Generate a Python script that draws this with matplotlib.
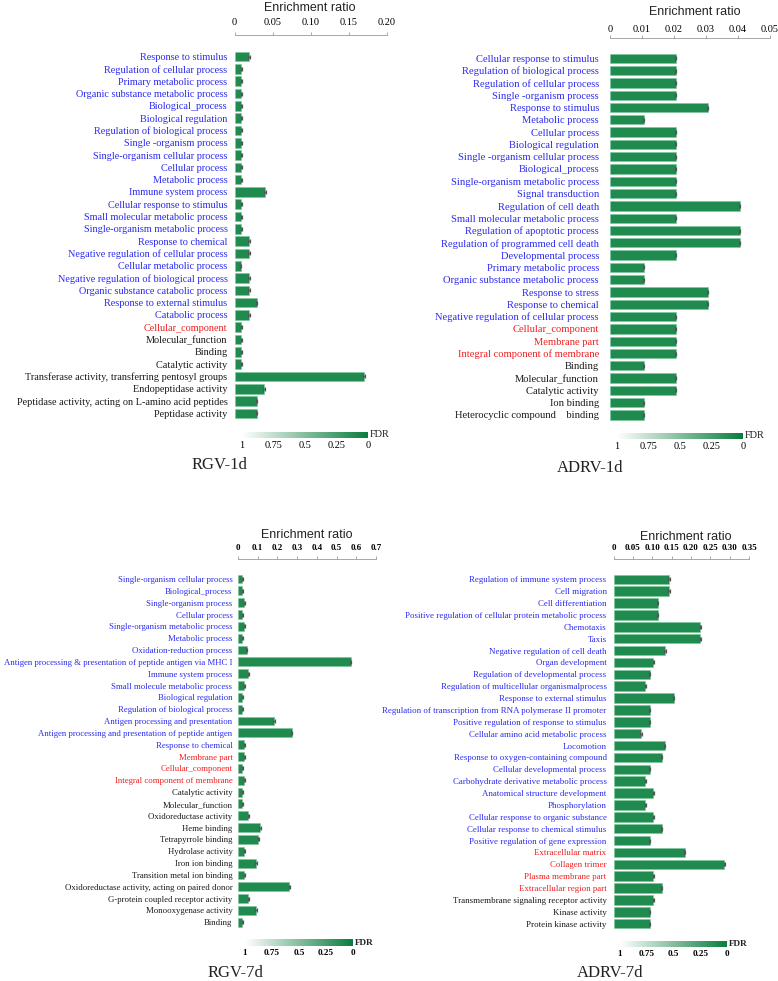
import numpy as np
import matplotlib
matplotlib.use('Agg')
import matplotlib.pyplot as plt
from matplotlib.colors import LinearSegmentedColormap

W, H = 778, 981

# ---------------- data ----------------
rgv1_labels = [
    'Response to stimulus', 'Regulation of cellular process', 'Primary metabolic process',
    'Organic substance metabolic process', 'Biological_process', 'Biological regulation',
    'Regulation of biological process', 'Single -organism process', 'Single-organism cellular process',
    'Cellular process', 'Metabolic process', 'Immune system process', 'Cellular response to stimulus',
    'Small molecular metabolic process', 'Single-organism metabolic process', 'Response to chemical',
    'Negative regulation of cellular process', 'Cellular metabolic process',
    'Negative regulation of biological process', 'Organic substance catabolic process',
    'Response to external stimulus', 'Catabolic process', 'Cellular_component', 'Molecular_function',
    'Binding', 'Catalytic activity', 'Transferase activity, transferring pentosyl groups',
    'Endopeptidase activity', 'Peptidase activity, acting on L-amino acid peptides', 'Peptidase activity']
rgv1_values = [0.019, 0.009, 0.009, 0.009, 0.009, 0.009, 0.009, 0.009, 0.009, 0.009,
               0.009, 0.040, 0.009, 0.009, 0.009, 0.019, 0.019, 0.008, 0.019, 0.019,
               0.029, 0.019, 0.009, 0.009, 0.009, 0.009, 0.170, 0.039, 0.029, 0.029]
rgv1_groups = ['BP'] * 22 + ['CC'] + ['MF'] * 7

adrv1_labels = [
    'Cellular response to stimulus', 'Regulation of biological process', 'Regulation of cellular process',
    'Single -organism process', 'Response to stimulus', 'Metabolic process', 'Cellular process',
    'Biological regulation', 'Single -organism cellular process', 'Biological_process',
    'Single-organism metabolic process', 'Signal transduction', 'Regulation of cell death',
    'Small molecular metabolic process', 'Regulation of apoptotic process',
    'Regulation of programmed cell death', 'Developmental process', 'Primary metabolic process',
    'Organic substance metabolic process', 'Response to stress', 'Response to chemical',
    'Negative regulation of cellular process', 'Cellular_component', 'Membrane part',
    'Integral component of membrane', 'Binding', 'Molecular_function', 'Catalytic activity',
    'Ion binding', 'Heterocyclic compound    binding']
adrv1_values = [0.0205, 0.0205, 0.0205, 0.0205, 0.0305, 0.0105, 0.0205, 0.0205, 0.0205, 0.0205,
                0.0205, 0.0205, 0.0405, 0.0205, 0.0405, 0.0405, 0.0205, 0.0105, 0.0105, 0.0305,
                0.0305, 0.0205, 0.0205, 0.0205, 0.0205, 0.0105, 0.0205, 0.0205, 0.0105, 0.0105]
adrv1_groups = ['BP'] * 22 + ['CC'] * 3 + ['MF'] * 5

rgv7_labels = [
    'Single-organism cellular process', 'Biological_process', 'Single-organism process',
    'Cellular process', 'Single-organism metabolic process', 'Metabolic process',
    'Oxidation-reduction process', 'Antigen processing & presentation of peptide antigen via MHC I',
    'Immune system process', 'Small molecule metabolic process', 'Biological regulation',
    'Regulation of biological process', 'Antigen processing and presentation',
    'Antigen processing and presentation of peptide antigen', 'Response to chemical',
    'Membrane part', 'Cellular_component', 'Integral component of membrane', 'Catalytic activity',
    'Molecular_function', 'Oxidoreductase activity', 'Heme binding', 'Tetrapyrrole binding',
    'Hydrolase activity', 'Iron ion binding', 'Transition metal ion binding',
    'Oxidoreductase activity, acting on paired donor', 'G-protein coupled receptor activity',
    'Monooxygenase activity', 'Binding']
rgv7_values = [0.022, 0.022, 0.032, 0.022, 0.032, 0.022, 0.044, 0.572, 0.052, 0.032,
               0.022, 0.022, 0.183, 0.272, 0.032, 0.032, 0.022, 0.032, 0.022, 0.022,
               0.052, 0.112, 0.103, 0.032, 0.091, 0.032, 0.260, 0.052, 0.091, 0.022]
rgv7_groups = ['BP'] * 15 + ['CC'] * 3 + ['MF'] * 12

adrv7_labels = [
    'Regulation of immune system process', 'Cell migration', 'Cell differentiation',
    'Positive regulation of cellular protein metabolic process', 'Chemotaxis', 'Taxis',
    'Negative regulation of cell death', 'Organ development', 'Regulation of developmental process',
    'Regulation of multicellular organismalprocess', 'Response to external stimulus',
    'Regulation of transcription from RNA polymerase II promoter',
    'Positive regulation of response to stimulus', 'Cellular amino acid metabolic process',
    'Locomotion', 'Response to oxygen-containing compound', 'Cellular developmental process',
    'Carbohydrate derivative metabolic process', 'Anatomical structure development',
    'Phosphorylation', 'Cellular response to organic substance',
    'Cellular response to chemical stimulus', 'Positive regulation of gene expression',
    'Extracellular matrix', 'Collagen trimer', 'Plasma membrane part', 'Extracellular region part',
    'Transmembrane signaling receptor activity', 'Kinase activity', 'Protein kinase activity']
adrv7_values = [0.143, 0.143, 0.114, 0.114, 0.224, 0.224, 0.133, 0.103, 0.093, 0.082,
                0.155, 0.093, 0.093, 0.071, 0.132, 0.124, 0.093, 0.082, 0.103, 0.082,
                0.103, 0.124, 0.093, 0.184, 0.286, 0.103, 0.124, 0.103, 0.093, 0.093]
adrv7_groups = ['BP'] * 23 + ['CC'] * 4 + ['MF'] * 3

fdr_ticks = [1, 0.75, 0.5, 0.25, 0]
fdr_ticklabels = ['1', '0.75', '0.5', '0.25', '0']

# ---------------- style ----------------
label_colors = {'BP': '#2b2bf0', 'CC': '#f02020', 'MF': '#1a1a1a'}
bar_color = '#1f8b4f'
serif = ['Liberation Serif', 'DejaVu Serif']
sans = ['Liberation Sans', 'DejaVu Sans']
cmap = LinearSegmentedColormap.from_list('fdr', ['#ffffff', '#0b7d3e'])

fig = plt.figure(figsize=(W / 100, H / 100), dpi=100)


def px_axes(left, top, right, bottom):
    return fig.add_axes([left / W, 1 - bottom / H, (right - left) / W, (bottom - top) / H])


def fig_text(x, y, s, **kw):
    fig.text(x / W, 1 - y / H, s, **kw)


def panel(labels, values, groups, xmax, xticks, xticklabels, x0, x1, spine_y, first_y, last_y,
          title_xy, label_fs, tick_fs, tick_bold, ypad, xpad, bar_h):
    n = len(labels)
    s = (last_y - first_y) / (n - 1)
    ax = px_axes(x0, spine_y, x1, last_y + s * 0.7)
    y = np.arange(n)
    ax.barh(y, values, height=bar_h, color=bar_color, edgecolor='#7cc79b', linewidth=0.4, zorder=2)
    ax.errorbar(values, y, xerr=xmax * 0.005, fmt='none', ecolor='#555555',
                elinewidth=0.9, capsize=1.6, capthick=0.9, zorder=3)
    ax.set_xlim(0, xmax)
    ax.set_ylim(n - 1 + 0.7, -(first_y - spine_y) / s)
    for sp in ['left', 'right', 'bottom']:
        ax.spines[sp].set_visible(False)
    ax.spines['top'].set_color('#999999')
    ax.spines['top'].set_linewidth(0.6)
    ax.xaxis.tick_top()
    ax.set_xticks(xticks)
    ax.set_xticklabels(xticklabels, family=serif, fontsize=tick_fs,
                       fontweight='bold' if tick_bold else 'normal')
    ax.tick_params(axis='x', direction='out', length=2, width=0.6, color='#999999', pad=xpad)
    ax.set_yticks(y)
    ax.set_yticklabels(labels, family=serif, fontsize=label_fs)
    ax.tick_params(axis='y', length=0, pad=ypad)
    for t, g in zip(ax.get_yticklabels(), groups):
        t.set_color(label_colors[g])
    ax.patch.set_alpha(0)
    fig_text(title_xy[0], title_xy[1], 'Enrichment ratio', family=sans, fontsize=9,
             ha='center', va='center', color='#222222')
    return ax


def fdr_bar(x0, x1, yc, fs, bold):
    cax = px_axes(x0, yc - 3.5, x1, yc + 3.5)
    cax.imshow(np.linspace(0, 1, 256)[None, :], aspect='auto', cmap=cmap, extent=(1, 0, 0, 1))
    cax.set_yticks([])
    cax.set_xticks(fdr_ticks)
    cax.set_xticklabels(fdr_ticklabels, family=serif, fontsize=fs,
                        fontweight='bold' if bold else 'normal')
    cax.tick_params(axis='x', length=0, pad=2)
    for sp in cax.spines.values():
        sp.set_visible(False)
    fig_text(x1 + 2, yc, 'FDR', family=serif, fontsize=fs, ha='left', va='center',
             fontweight='bold' if bold else 'normal', color='#222222')


# RGV-1d
panel(rgv1_labels, rgv1_values, rgv1_groups, 0.2, [0, 0.05, 0.10, 0.15, 0.20],
      ['0', '0.05', '0.10', '0.15', '0.20'], 234.5, 387, 35, 56.7, 413.3, (310, 8),
      7.4, 7.4, False, 5, 4, 0.78)
fdr_bar(242, 368, 435, 7.4, False)
fig_text(219, 465, 'RGV-1d', family=serif, fontsize=12, ha='center', va='center', color='#222222')

# ADRV-1d
panel(adrv1_labels, adrv1_values, adrv1_groups, 0.05, [0, 0.01, 0.02, 0.03, 0.04, 0.05],
      ['0', '0.01', '0.02', '0.03', '0.04', '0.05'], 610, 770, 38.3, 58.3, 415, (695, 12),
      7.6, 7.4, False, 8, 1, 0.76)
fdr_bar(617, 743, 436, 7.4, False)
fig_text(590, 468, 'ADRV-1d', family=serif, fontsize=12, ha='center', va='center', color='#222222')

# RGV-7d
panel(rgv7_labels, rgv7_values, rgv7_groups, 0.7, [0, 0.1, 0.2, 0.3, 0.4, 0.5, 0.6, 0.7],
      ['0', '0.1', '0.2', '0.3', '0.4', '0.5', '0.6', '0.7'], 238, 376, 559, 579, 922.3, (307, 535),
      6.3, 6.5, True, 4, 3, 0.75)
fdr_bar(245, 353, 942.7, 6.6, True)
fig_text(235, 973, 'RGV-7d', family=serif, fontsize=12, ha='center', va='center', color='#222222')

# ADRV-7d
panel(adrv7_labels, adrv7_values, adrv7_groups, 0.35,
      [0, 0.05, 0.10, 0.15, 0.20, 0.25, 0.30, 0.35],
      ['0', '0.05', '0.10', '0.15', '0.20', '0.25', '0.30', '0.35'], 613.5, 749, 559.3, 579.3, 923.7,
      (686, 537), 6.4, 6.5, True, 5, 3, 0.8)
fdr_bar(620, 727, 944, 6.6, True)
fig_text(610, 973, 'ADRV-7d', family=serif, fontsize=12, ha='center', va='center', color='#222222')

fig.savefig('out.png', dpi=100)
